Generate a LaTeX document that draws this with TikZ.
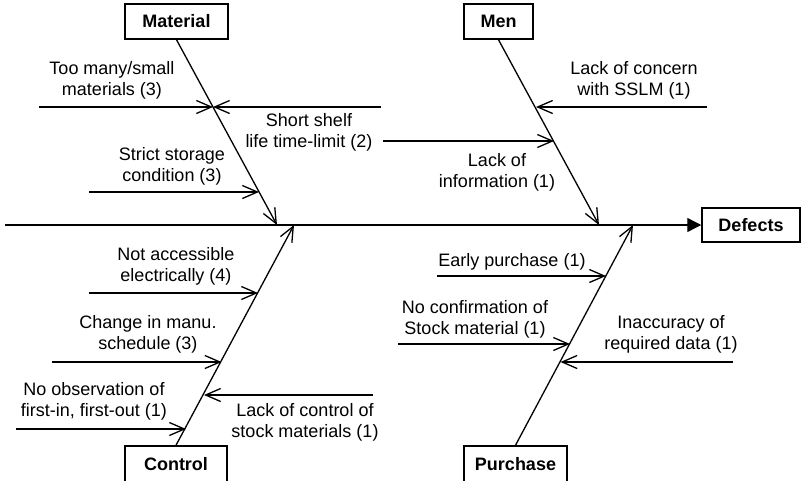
\documentclass[tikz,border=0pt]{standalone}
\usepackage{fontspec}
\setmainfont{Liberation Sans}
\usetikzlibrary{arrows.meta}
\begin{document}
\begin{tikzpicture}[x=1pt,y=-1pt,
  line width=1.3pt,
  cat/.style={draw,line width=1.5pt,font=\fontsize{18}{21}\selectfont\bfseries,inner sep=0pt,minimum height=35pt},
  lbl/.style={align=center,font=\fontsize{18}{21}\selectfont,inner sep=0pt},
  br/.style={-{Straight Barb[length=15pt,width=13pt]}}]
\useasboundingbox (0,0) rectangle (802,480);

% category boxes
\node[cat,minimum width=103pt] (mat) at (176.5,21.5) {Material};
\node[cat,minimum width=69pt] (men) at (498.5,21.5) {Men};
\node[cat,minimum width=102pt,minimum height=36pt] (ctl) at (176,464) {Control};
\node[cat,minimum width=103pt,minimum height=36pt] (pur) at (515.5,464) {Purchase};
\node[cat,minimum width=98pt,minimum height=34pt] (def) at (751,225) {Defects};

% spine
\coordinate (s0) at (5,225);
\draw[-{Triangle[length=14pt,width=14pt]}] (s0) -- (def.west);

% bones
\coordinate (mt) at (277,225);
\coordinate (nt) at (599,225);
\coordinate (ct) at (294,225);
\coordinate (pt) at (633,225);
\draw[br] (mat.south) -- (mt);
\draw[br] (men.south) -- (nt);
\draw[br] (ctl.north) -- (ct);
\draw[br] (pur.north) -- (pt);

% Material branches
\coordinate (m1a) at (39,107);   \coordinate (m1b) at (213,107);
\coordinate (m2a) at (381,107);
\coordinate (m3a) at (89,192);   \coordinate (m3b) at (259,192);
\draw[br] (m1a) -- (m1b);
\draw[br] (m2a) -- (m1b);
\draw[br] (m3a) -- (m3b);
\node[lbl] (t1) at (112,80) {Too many/small\\materials (3)};
\node[lbl] (t2) at (309,132) {Short shelf\\life time-limit (2)};
\node[lbl] (t3) at (172,166) {Strict storage\\condition (3)};

% Men branches
\coordinate (n1a) at (707,107);  \coordinate (n1b) at (536,107);
\coordinate (n2a) at (383,141);  \coordinate (n2b) at (554,141);
\draw[br] (n1a) -- (n1b);
\draw[br] (n2a) -- (n2b);
\node[lbl] (t4) at (634,80) {Lack of concern\\with SSLM (1)};
\node[lbl] (t5) at (497,172) {Lack of\\information (1)};

% Control branches
\coordinate (c1a) at (89,293);   \coordinate (c1b) at (258,293);
\coordinate (c2a) at (52,362);   \coordinate (c2b) at (221.5,362);
\coordinate (c3a) at (373,395);  \coordinate (c3b) at (204,395);
\coordinate (c4a) at (16,429);   \coordinate (c4b) at (186,429);
\draw[br] (c1a) -- (c1b);
\draw[br] (c2a) -- (c2b);
\draw[br] (c3a) -- (c3b);
\draw[br] (c4a) -- (c4b);
\node[lbl] (t6) at (176,266) {Not accessible\\electrically (4)};
\node[lbl] (t7) at (148,334) {Change in manu.\\schedule (3)};
\node[lbl] (t8) at (94,401) {No observation of\\first-in, first-out (1)};
\node[lbl] (t9) at (305,422) {Lack of control of\\stock materials (1)};

% Purchase branches
\coordinate (p1a) at (437,276);  \coordinate (p1b) at (606,276);
\coordinate (p2a) at (398,344);  \coordinate (p2b) at (570,344);
\coordinate (p3a) at (733,362);  \coordinate (p3b) at (560.5,362);
\draw[br] (p1a) -- (p1b);
\draw[br] (p2a) -- (p2b);
\draw[br] (p3a) -- (p3b);
\node[lbl] (t10) at (512,262) {Early purchase (1)};
\node[lbl] (t11) at (475,319) {No confirmation of\\Stock material (1)};
\node[lbl] (t12) at (671,334) {Inaccuracy of\\required data (1)};
\end{tikzpicture}
\end{document}
